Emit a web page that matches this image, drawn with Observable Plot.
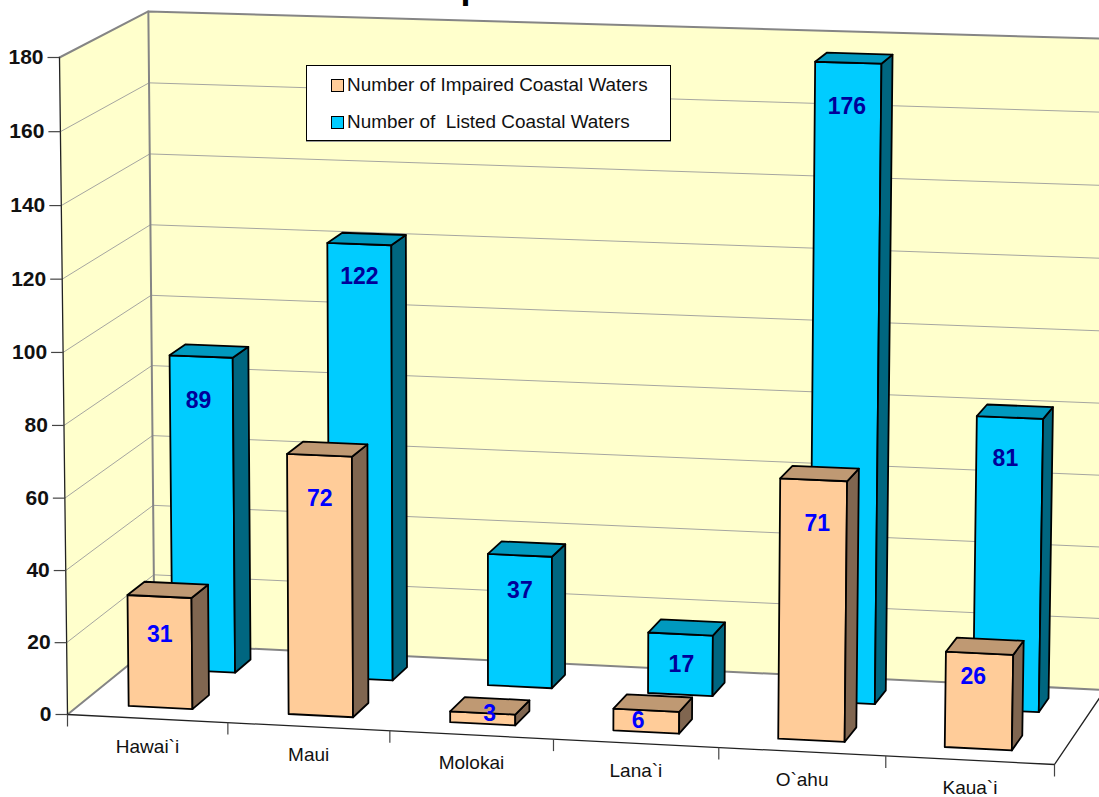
<!DOCTYPE html>
<html>
<head>
<meta charset="utf-8">
<script src="https://cdn.jsdelivr.net/npm/d3@7"></script>
<script src="https://cdn.jsdelivr.net/npm/@observablehq/plot@0.6"></script>
<style>
  html, body { margin: 0; padding: 0; background: #fff; overflow: hidden; }
  #chart { position: relative; width: 1099px; height: 797px; font-family: "Liberation Sans", Arial, sans-serif; }
  #legend { position: absolute; left: 306px; top: 65px; width: 363px; height: 74px; background: #fff;
            border: 1px solid #000; box-shadow: 0 1px 0 #999; font-size: 18.9px; color: #111; }
  .key { position: absolute; left: 24px; display: flex; align-items: center; white-space: pre; }
  .swatch { width: 11px; height: 11px; border: 1.5px solid #000; margin-right: 3px; }
</style>
</head>
<body>
<div id="chart">
  <div id="legend"></div>
</div>
<script>
// Coastal water counts per island
const islands = ["Hawai`i", "Maui", "Molokai", "Lana`i", "O`ahu", "Kaua`i"];
const impaired = [31, 72, 3, 6, 71, 26];
const listed = [89, 122, 37, 17, 176, 81];
const valueTicks = [0, 20, 40, 60, 80, 100, 120, 140, 160, 180];
const valueMax = 180;

const impairedName = "Number of Impaired Coastal Waters";
const listedName = "Number of  Listed Coastal Waters";

// Colours of the three visible faces per series, and of the value labels
const impairedFaces = {front: "#FFCC99", top: "#BF9973", side: "#806650", label: "#0000FF"};
const listedFaces = {front: "#00CCFF", top: "#0099BF", side: "#006680", label: "#000099"};

// How far below the bar top (chart units) and how far sideways (px) each value label sits
const impairedDrop = [10.5, 11.8, 0.2, 3, 11.8, 6.4];
const impairedSide = [0, 0, 7, -8, 4, -6];
const listedDrop = [12.4, 9, 10, 8.5, 11.8, 11.3];
const listedSide = [-3, 0, 0, 1, -1, -4];

// Perspective projection of the chart box: u across, v up, w into the page, each 0..1
const origin = [67, 714], acrossEnd = [1054, 764], upEnd = [59, 57], deepEnd = [154, 643.5];
const pa = -0.03, pb = -0.018, pc = 0.04;
const axisOf = (end, k) => [(1 + k) * end[0] - origin[0], (1 + k) * end[1] - origin[1]];
const A = axisOf(acrossEnd, pa), B = axisOf(upEnd, pb), C = axisOf(deepEnd, pc);
function project(u, v, w) {
  const d = 1 + pa * u + pb * v + pc * w;
  return {
    x: (origin[0] + A[0] * u + B[0] * v + C[0] * w) / d,
    y: (origin[1] + A[1] * u + B[1] * v + C[1] * w) / d
  };
}
const level = (value) => value / valueMax;

// Closed polygons for the faces of a box
function polygon(id, fill, corners) {
  return corners.map(([u, v, w]) => ({id, fill, ...project(u, v, w)}));
}
const gapAcross = 0.3, widthAcross = 0.4, depthRows = {impaired: [0.15, 0.345], listed: [0.66, 0.85]};
function barFaces(values, row, colors, name) {
  const [w0, w1] = row;
  return values.flatMap((value, i) => {
    const u0 = (i + gapAcross) / islands.length, u1 = (i + gapAcross + widthAcross) / islands.length;
    const v = level(value);
    return [
      ...polygon(`${name}-${i}-front`, colors.front, [[u0, 0, w0], [u1, 0, w0], [u1, v, w0], [u0, v, w0]]),
      ...polygon(`${name}-${i}-side`, colors.side, [[u1, 0, w0], [u1, 0, w1], [u1, v, w1], [u1, v, w0]]),
      ...polygon(`${name}-${i}-top`, colors.top, [[u0, v, w0], [u1, v, w0], [u1, v, w1], [u0, v, w1]])
    ];
  });
}
function barLabels(values, row, drops, sides) {
  return values.map((value, i) => {
    const p = project((i + gapAcross + widthAcross / 2) / islands.length, level(value - drops[i]), row[0]);
    return {text: String(value), x: p.x + sides[i], y: p.y};
  });
}

// Walls and the lines drawn on them
const walls = [
  ...polygon("left", "#FFFFCC", [[0, 0, 0], [0, 1, 0], [0, 1, 1], [0, 0, 1]]),
  ...polygon("back", "#FFFFCC", [[0, 0, 1], [0, 1, 1], [1, 1, 1], [1, 0, 1]])
];
const gridLines = valueTicks.slice(1, -1).flatMap((t) =>
  [[0, level(t), 0], [0, level(t), 1], [1, level(t), 1]].map(([u, v, w]) => ({t, ...project(u, v, w)}))
);
const wallEdges = [
  [[0, 1, 0], [0, 1, 1], [1, 1, 1]],
  [[0, 0, 0], [0, 0, 1], [1, 0, 1]],
  [[0, 0, 1], [0, 1, 1]]
].flatMap((path, id) => path.map(([u, v, w]) => ({id, ...project(u, v, w)})));
const inkEdges = [
  [[0, 0, 0], [1, 0, 0], [1, 0, 1]],
  [[0, 0, 0], [0, 1, 0]]
].flatMap((path, id) => path.map(([u, v, w]) => ({id, ...project(u, v, w)})));

// Axis ticks and their labels
const valueAxis = valueTicks.map((t) => ({t, ...project(0, level(t), 0)}));
const categoryTicks = d3.range(islands.length + 1).map((i) => project(i / islands.length, 0, 0));
const categoryAxis = islands.map((name, i) => ({name, ...project((i + 0.5) / islands.length, 0, 0)}));

const polyMark = (data, options = {}) =>
  Plot.line(data, {x: "x", y: "y", z: "id", fill: "fill", curve: "linear-closed", ...options});
const barStroke = {stroke: "#000", strokeWidth: 1.8, strokeLinejoin: "round"};
const font = "Liberation Sans, Arial, sans-serif";

const plot = Plot.plot({
  width: 1099,
  height: 797,
  margin: 0,
  style: {overflow: "hidden", background: "transparent"},
  x: {domain: [0, 1099], range: [0, 1099], axis: null},
  y: {domain: [0, 797], range: [0, 797], axis: null},
  color: {type: "identity"},
  marks: [
    polyMark(walls),
    Plot.line(gridLines, {x: "x", y: "y", z: "t", stroke: "#A6A6A0", strokeWidth: 1}),
    Plot.line(wallEdges, {x: "x", y: "y", z: "id", stroke: "#858585", strokeWidth: 2}),
    Plot.line(inkEdges, {x: "x", y: "y", z: "id", stroke: "#222", strokeWidth: 1.3}),
    Plot.link(valueAxis, {x1: (d) => d.x - 12, x2: "x", y1: "y", y2: "y", stroke: "#444", strokeWidth: 1.2}),
    Plot.link(categoryTicks, {x1: "x", x2: "x", y1: "y", y2: (d) => d.y + 12, stroke: "#444", strokeWidth: 1.2}),
    Plot.text(valueAxis, {x: (d) => d.x - 16, y: "y", text: (d) => String(d.t), textAnchor: "end", fontFamily: font, fontWeight: "bold", fontSize: 21, fill: "#111"}),
    Plot.text(categoryAxis, {x: "x", y: (d) => d.y + 28, text: "name", fontFamily: font, fontSize: 19, fill: "#111"}),
    // Descender of the chart heading, which runs off the top edge
    Plot.text(["p"], {x: 460, y: -3, text: (d) => d, textAnchor: "start", lineAnchor: "bottom", fontFamily: font, fontWeight: "bold", fontSize: 36, fill: "#000"}),
    polyMark(barFaces(listed, depthRows.listed, listedFaces, "listed"), barStroke),
    Plot.text(barLabels(listed, depthRows.listed, listedDrop, listedSide), {x: "x", y: "y", text: "text", fontFamily: font, fontWeight: "bold", fontSize: 23, fill: listedFaces.label}),
    polyMark(barFaces(impaired, depthRows.impaired, impairedFaces, "impaired"), barStroke),
    Plot.text(barLabels(impaired, depthRows.impaired, impairedDrop, impairedSide), {x: "x", y: "y", text: "text", fontFamily: font, fontWeight: "bold", fontSize: 23, fill: impairedFaces.label})
  ]
});
const chart = document.getElementById("chart");
chart.insertBefore(plot, chart.firstChild);

// Legend box laid over the back wall
const legend = document.getElementById("legend");
[[impairedName, impairedFaces.front, 8], [listedName, listedFaces.front, 45]].forEach(([name, color, top]) => {
  const row = document.createElement("div");
  row.className = "key";
  row.style.top = top + "px";
  const swatch = document.createElement("span");
  swatch.className = "swatch";
  swatch.style.background = color;
  row.append(swatch, name);
  legend.append(row);
});
</script>
</body>
</html>
